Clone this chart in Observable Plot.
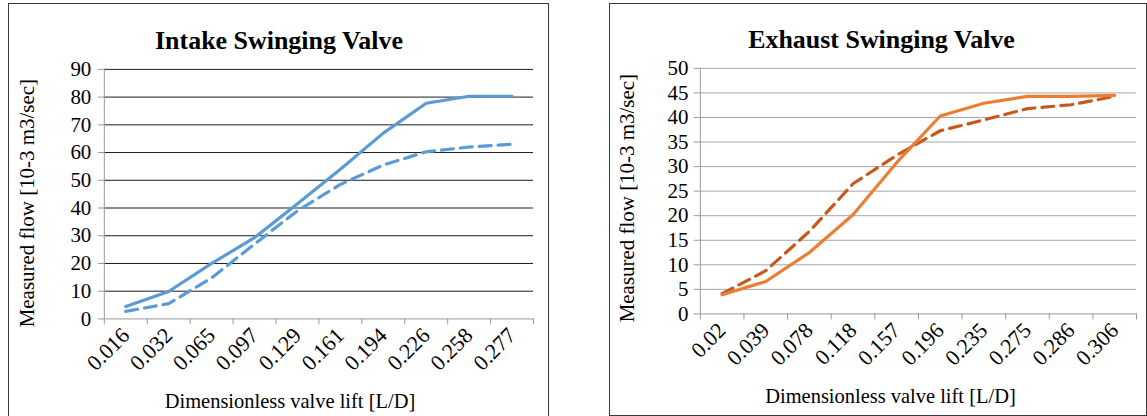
<!DOCTYPE html>
<html>
<head>
<meta charset="utf-8">
<script src="https://cdn.jsdelivr.net/npm/d3@7"></script>
<script src="https://cdn.jsdelivr.net/npm/@observablehq/plot@0.6"></script>
<style>
  html, body { margin: 0; padding: 0; background: #fff; }
  body { width: 1147px; height: 416px; position: relative; overflow: hidden; font-family: "Liberation Serif", "Times New Roman", serif; }
  .box { position: absolute; box-sizing: border-box; border: 1px solid #3a3a3a; background: #fff; }
  .box svg { position: absolute; left: 0; top: 0; overflow: visible; }
  .box svg, .box svg text, .box svg g { font-family: "Liberation Serif", "Times New Roman", serif !important; }
</style>
</head>
<body>
<div id="left" class="box" style="left:8px; top:3px; width:541px; height:420px; border-bottom:none;"></div>
<div id="right" class="box" style="left:609px; top:3px; width:538px; height:413px;"></div>
<script>
// ---- Data ----
const intakeLabels = ["0.016","0.032","0.065","0.097","0.129","0.161","0.194","0.226","0.258","0.277"];
const intakeSolid  = [4.5, 9.9, 20, 29.3, 41.5, 54, 67, 77.8, 80.3, 80.3];
const intakeDashed = [2.7, 5.5, 14.8, 27, 39, 48.5, 55.5, 60.3, 62, 63];

const exhaustLabels = ["0.02","0.039","0.078","0.118","0.157","0.196","0.235","0.275","0.286","0.306"];
const exhaustSolid  = [3.9, 6.6, 12.5, 20.2, 30.8, 40.3, 42.9, 44.3, 44.3, 44.5];
const exhaustDashed = [4.1, 8.8, 16.8, 26.5, 32.3, 37.3, 39.5, 41.8, 42.6, 44.3];

const intakeTicks = d3.range(0, 91, 10);
const exhaustTicks = d3.range(0, 51, 5);

const FONT = "'Liberation Serif', 'Times New Roman', serif";

function makeChart(o) {
  const idx = d3.range(o.labels.length);
  const solid = idx.map(i => ({i, v: o.solid[i]}));
  const dashed = idx.map(i => ({i, v: o.dashed[i]}));
  const n = o.labels.length;
  return Plot.plot({
    width: o.width, height: o.height,
    marginLeft: o.ml, marginRight: o.mr, marginTop: o.mt, marginBottom: o.mb,
    style: {fontFamily: FONT, fontSize: "20px", color: "#000", background: "transparent", overflow: "visible"},
    x: {type: "linear", domain: [-0.5, n - 0.5], axis: null},
    y: {domain: [0, o.yTicks[o.yTicks.length - 1]], axis: null},
    marks: [
      Plot.ruleY(o.yTicks.slice(1), {stroke: o.gridColor, strokeWidth: 1, strokeOpacity: 1}),
      Plot.ruleY([0], {stroke: "#9a9a9a", strokeWidth: 1}),
      Plot.ruleX([-0.5], {stroke: "#9a9a9a", strokeWidth: 1}),
      Plot.axisY({ticks: o.yTicks, tickSize: 6, tickPadding: o.yPad, stroke: "#9a9a9a", fill: "#000", label: null, fontSize: 21, fontFamily: FONT}),
      Plot.axisX({ticks: d3.range(-0.5, n, 1), tickSize: 6, tickFormat: () => "", stroke: "#9a9a9a", label: null}),
      Plot.axisX({ticks: idx, tickSize: 0, tickPadding: o.tickPad, tickRotate: -45, tickFormat: i => o.labels[i], fill: "#000", label: null, fontSize: 22, fontFamily: FONT}),
      Plot.line(dashed, {x: "i", y: "v", stroke: o.dashColor, strokeWidth: 3.2, strokeDasharray: "12,7", strokeLinejoin: "round"}),
      Plot.line(solid, {x: "i", y: "v", stroke: o.solidColor, strokeWidth: 3.2, strokeLinejoin: "round"}),
      Plot.text([o.title], {frameAnchor: "top", dx: o.titleDx, dy: -20, lineAnchor: "bottom", fontWeight: "bold", fontSize: 26, fill: "#000", fontFamily: FONT}),
      Plot.text([o.yLabel], {frameAnchor: "left", rotate: -90, dx: o.yLabelDx, dy: o.yLabelDy, lineAnchor: "bottom", textAnchor: "middle", fontSize: 21, fill: "#000", fontFamily: FONT}),
      Plot.text([o.xLabel], {frameAnchor: "bottom", dx: o.xLabelDx, dy: 89, lineAnchor: "bottom", fontSize: 20.5, fill: "#000", fontFamily: FONT})
    ]
  });
}

const left = makeChart({
  labels: intakeLabels, solid: intakeSolid, dashed: intakeDashed, yTicks: intakeTicks,
  solidColor: "#5B9BD5", dashColor: "#5B9BD5", gridColor: "#1a1a1a",
  width: 540, height: 413, ml: 95, mr: 15, mt: 65, mb: 98, tickPad: 13, yPad: 7,
  title: "Intake Swinging Valve", titleDx: -40,
  yLabel: "Measured flow [10-3 m3/sec]", yLabelDx: -70, yLabelDy: 9,
  xLabel: "Dimensionless valve lift [L/D]", xLabelDx: -29
});
document.getElementById("left").append(left);

const right = makeChart({
  labels: exhaustLabels, solid: exhaustSolid, dashed: exhaustDashed, yTicks: exhaustTicks,
  solidColor: "#ED7D31", dashColor: "#C65A1E", gridColor: "#a6a6a6",
  width: 537, height: 412, ml: 90, mr: 10, mt: 64, mb: 102, tickPad: 13, yPad: 6,
  title: "Exhaust Swinging Valve", titleDx: -37,
  yLabel: "Measured flow [10-3 m3/sec]", yLabelDx: -66, yLabelDy: 7,
  xLabel: "Dimensionless valve lift [L/D]", xLabelDx: -28
});
document.getElementById("right").append(right);
</script>
</body>
</html>
